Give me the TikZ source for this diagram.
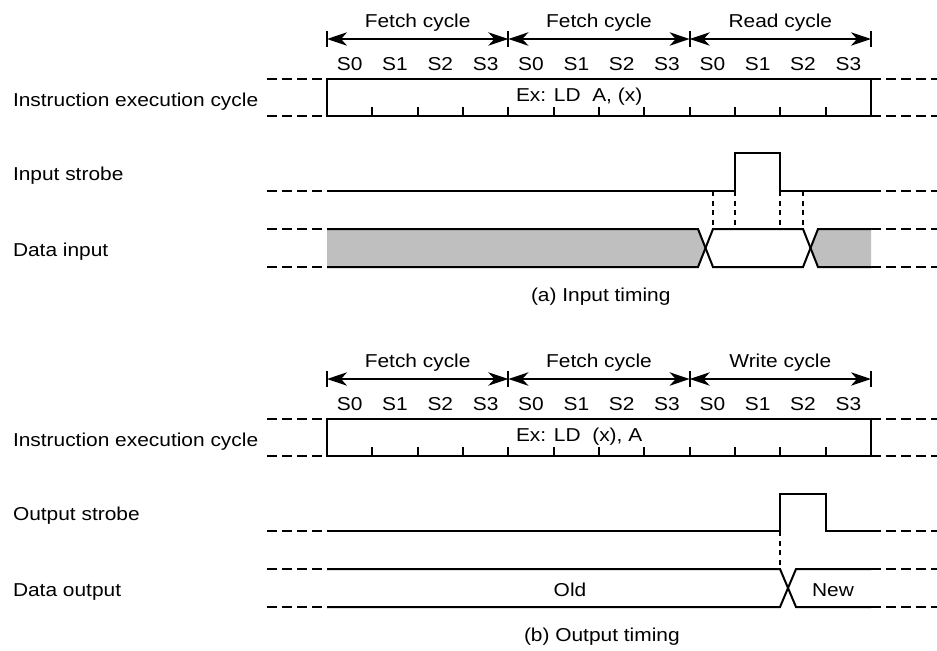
\documentclass[tikz,border=0pt]{standalone}
\usepackage{fontspec}
\setmainfont{Liberation Sans}[FakeStretch=1.12]
\usetikzlibrary{arrows.meta}

\begin{document}
\begin{tikzpicture} [
  x=0.75pt, y=-0.75pt,
  line width=1.5pt,
  >={Stealth[length=15pt,width=10pt,inset=4.5pt]},
  label node/.style={font=\fontsize{14}{16}\selectfont,inner sep=0pt,anchor=base},
  ext line/.style={dash pattern=on 7.5pt off 3.75pt},
  guide line/.style={dash pattern=on 3.75pt off 3.5pt},
  busy/.style={fill=black!25},
  ]

  \useasboundingbox (0,0) rectangle (937,650);

  \foreach \off/\p/\cyc/\instr/\strobe/\data/\capt/\cx in {%
      0/a/Read/{A, (x)}/{Input strobe}/{Data input}/{(a) Input timing}/530,
      340/b/Write/{(x), A}/{Output strobe}/{Data output}/{(b) Output timing}/523} {
    \foreach \k in {0,4,8,12}
      \coordinate (\p\k) at (327+45.333*\k,39+\off);
    \foreach \k in {0,4,8,12}
      \draw ([yshift=6pt]\p\k) -- ([yshift=-6pt]\p\k);
    \foreach \k/\kk/\n in {0/4/Fetch,4/8/Fetch,8/12/\cyc}
      \draw[<->] (\p\k) -- node[label node,yshift=9pt] {\n\ cycle} (\p\kk);
    \foreach \k in {0,...,11} {
      \pgfmathtruncatemacro\st{mod(\k,4)}
      \node[label node] (\p s\k) at (349.667+45.333*\k,70.5+\off) {S\st};
    }
    \draw (327,79+\off) rectangle (871,116+\off);
    \foreach \k in {1,...,11}
      \draw (327+45.333*\k,116+\off) -- ++(0,-9);
    \node[label node,anchor=base west] (\p-instr) at (515,101.5+\off) {Ex: LD~~\instr};
    \foreach \y in {79,116,191,229,267} {
      \draw[ext line] (267,\y+\off) -- (327,\y+\off);
      \draw[ext line] (871,\y+\off) -- (937,\y+\off);
    }
    \node[label node,anchor=base west] (\p-cycle) at (12,106+\off) {Instruction execution cycle};
    \node[label node,anchor=base west] (\p-strobe) at (12,180.5+\off) {\strobe};
    \node[label node,anchor=base west] (\p-data) at (12,256+\off) {\data};
    \node[label node,anchor=base west] (\p-caption) at (\cx,301.5+\off) {\capt};
  }

  % input timing
  \fill[busy] (327,229) -- (698,229) -- (705.5,248) -- (698,267) -- (327,267) -- cycle;
  \fill[busy] (871,229) -- (818,229) -- (810.5,248) -- (818,267) -- (871,267) -- cycle;
  \draw (327,229) -- (698,229) -- (713,267) -- (803,267) -- (818,229) -- (871,229);
  \draw (327,267) -- (698,267) -- (713,229) -- (803,229) -- (818,267) -- (871,267);
  \draw (327,191) -- (735,191) |- (780,153) |- (871,191);
  \foreach \x in {713,735,780,803}
    \draw[guide line] (\x,191) -- (\x,229);

  % output timing
  \draw (327,531) -- (780,531) |- (826,494) |- (871,531);
  \draw[guide line] (780,531) -- (780,569);
  \draw (327,569) -- (780,569) -- (796,607) -- (871,607);
  \draw (327,607) -- (780,607) -- (796,569) -- (871,569);
  \node[label node] (old) at (570,596) {Old};
  \node[label node] (new) at (833,596) {New};
\end{tikzpicture}
\end{document}
